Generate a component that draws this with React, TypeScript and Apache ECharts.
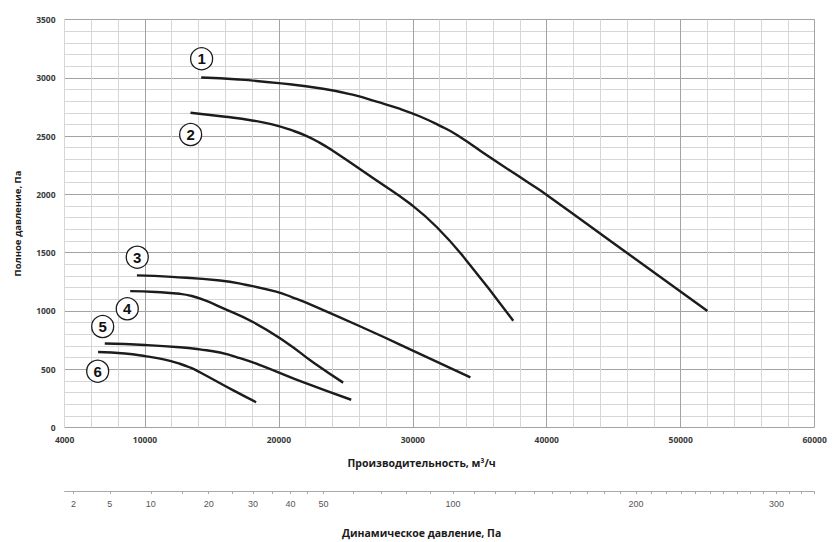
import React, { useEffect, useRef } from "react";
import * as echarts from "echarts";

// Flow (m³/h) vs total pressure (Pa) for six fan curves
const curve1 = [[14200, 3002], [17000, 2985], [20000, 2954], [23300, 2906], [25500, 2855], [27300, 2795], [29000, 2735], [30500, 2670], [32000, 2590], [33300, 2510], [35700, 2322], [38700, 2095], [40000, 1995], [46000, 1497], [52000, 1000]];
const curve2 = [[13400, 2700], [16000, 2666], [18000, 2634], [19500, 2600], [21000, 2548], [22000, 2504], [23000, 2446], [24000, 2376], [27300, 2119], [29800, 1919], [31800, 1718], [34000, 1433], [37500, 915]];
const curve3 = [[9400, 1305], [12000, 1292], [15600, 1261], [17500, 1225], [19800, 1165], [21000, 1117], [22550, 1046], [27000, 819], [30000, 660], [34300, 430]];
const curve4 = [[8900, 1170], [10800, 1163], [12600, 1147], [13500, 1128], [14500, 1090], [15600, 1035], [18100, 903], [20600, 725], [22600, 555], [24800, 385]];
const curve5 = [[7000, 720], [10000, 708], [12600, 689], [14100, 670], [15600, 643], [17100, 595], [18600, 535], [22000, 380], [25400, 238]];
const curve6 = [[6500, 648], [8500, 635], [10100, 610], [11400, 584], [12600, 547], [13400, 513], [14100, 474], [16600, 318], [18300, 217]];
const curves = [curve1, curve2, curve3, curve4, curve5, curve6];

// Curve number badges: [flow, pressure, label]
const badges = [[14230, 3163, "1"], [13410, 2513, "2"], [9425, 1461, "3"], [8679, 1018, "4"], [6843, 866, "5"], [6470, 483, "6"]];

// Dynamic pressure scale (Pa)
const dynLabels = [2, 5, 10, 20, 30, 40, 50, 100, 200, 300];
const dynTicks = [2, 5, 10, 15, 20, 25, 30, 35, 40, 45, 50, 60, 70, 80, 90, 100, 110, 120, 130, 140, 150, 160, 170, 180, 190, 200, 210, 220, 230, 240, 250, 260, 270, 280, 290, 300, 310, 320, 330];
const DYN_K = 3300; // flow = K * sqrt(dynamic pressure)

const xMin = 4000, xMax = 60000, yMin = 0, yMax = 3500;

export default function App() {
  const ref = useRef<HTMLDivElement>(null);
  useEffect(() => {
    if (!ref.current) return;
    const chart = echarts.init(ref.current, null, { renderer: "svg" });
    const minor = "#d6d6d6", major = "#a3a3a3";
    const labelStyle = { color: "#3a3a3a", fontSize: 8.5, fontWeight: "bold" as const, fontFamily: "Open Sans" };
    chart.setOption({
      animation: false,
      backgroundColor: "#ffffff",
      grid: [
        { left: 64.6, right: 17.4, top: 19.5, height: 408 },
        { left: 64.6, right: 17.4, top: 490, height: 1 },
      ],
      xAxis: [
        {
          type: "value", gridIndex: 0, min: xMin, max: xMax, interval: 2000,
          axisLine: { show: false }, axisTick: { show: false },
          splitLine: { show: true, lineStyle: { color: [minor, minor, minor, major, minor], width: 1 } },
          axisLabel: { ...labelStyle, margin: 7, formatter: (v: number) => (v === 4000 || v % 10000 === 0 ? String(v) : "") },
          name: "Производительность, м³/ч", nameLocation: "middle", nameGap: 30,
          nameTextStyle: { color: "#1a1a1a", fontSize: 10.5, fontWeight: "bold", fontFamily: "Open Sans", padding: [0, 36, 0, 0] },
        },
        {
          type: "value", gridIndex: 1, min: xMin, max: xMax, position: "bottom",
          axisLine: { show: true, lineStyle: { color: "#a8a8a8", width: 1 } },
          axisTick: { show: true, length: 3, lineStyle: { color: "#a8a8a8" }, customValues: dynTicks.map((p) => DYN_K * Math.sqrt(p)) },
          splitLine: { show: false },
          axisLabel: {
            color: "#555", fontSize: 9, fontFamily: "Liberation Sans", margin: 8,
            customValues: dynLabels.map((p) => DYN_K * Math.sqrt(p)),
            formatter: (v: number) => String(Math.round((v / DYN_K) ** 2)),
          },
          name: "Динамическое давление, Па", nameLocation: "middle", nameGap: 36,
          nameTextStyle: { color: "#1a1a1a", fontSize: 10.5, fontWeight: "bold", fontFamily: "Open Sans", padding: [0, 36, 0, 0] },
        },
      ],
      yAxis: [
        {
          type: "value", gridIndex: 0, min: yMin, max: yMax, interval: 100,
          axisLine: { show: false }, axisTick: { show: false },
          splitLine: { show: true, lineStyle: { color: [major, minor, minor, minor, minor], width: 1 } },
          axisLabel: { ...labelStyle, margin: 9, formatter: (v: number) => (v % 500 === 0 ? String(v) : "") },
          name: "Полное давление, Па", nameLocation: "middle", nameGap: 42,
          nameTextStyle: { color: "#1a1a1a", fontSize: 9.5, fontWeight: "bold", fontFamily: "Open Sans" },
        },
        { type: "value", gridIndex: 1, show: false, min: 0, max: 1 },
      ],
      series: [
        ...curves.map((c, i) => ({
          type: "line", name: "curve" + (i + 1), xAxisIndex: 0, yAxisIndex: 0,
          data: c, smooth: 0.5, showSymbol: false,
          lineStyle: { color: "#1c1c1c", width: 2.4 }, z: 3,
        })),
        {
          type: "scatter", xAxisIndex: 0, yAxisIndex: 0, z: 5,
          data: badges.map((b) => ({ value: [b[0], b[1]], name: b[2] })),
          symbol: "circle", symbolSize: 22,
          itemStyle: { color: "#ffffff", borderColor: "#1c1c1c", borderWidth: 1.3, opacity: 1 },
          label: {
            show: true, position: "inside", formatter: (p: any) => p.name,
            color: "#111", fontSize: 15, fontWeight: "bold", fontFamily: "Liberation Sans",
          },
        },
      ],
    });
    return () => chart.dispose();
  }, []);
  return <div ref={ref} style={{ width: 832, height: 542, position: "absolute", left: 0, top: 0 }} />;
}
